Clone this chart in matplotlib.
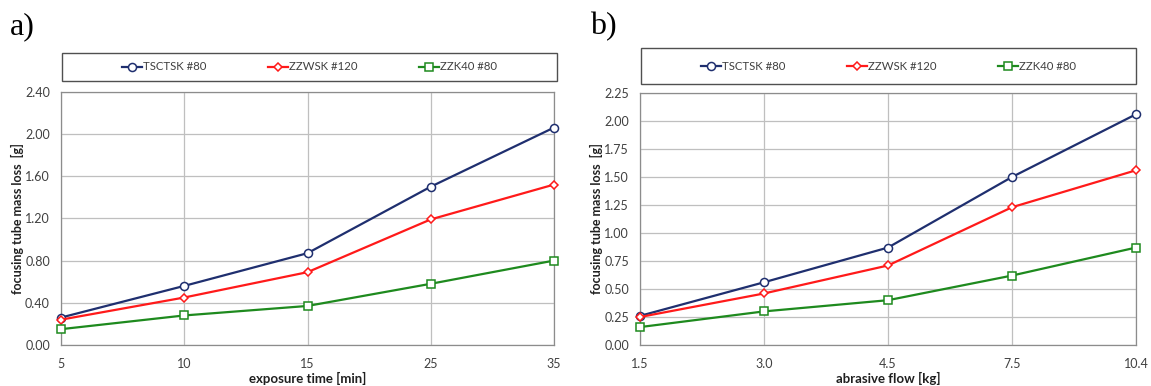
import matplotlib
matplotlib.use("Agg")
import matplotlib.pyplot as plt
from matplotlib.patches import Rectangle
from matplotlib.lines import Line2D

plt.rcParams['font.family'] = ['Lato', 'DejaVu Sans']

# Data
series_names = ["TSCTSK #80", "ZZWSK #120", "ZZK40 #80"]
time_labels = ["5", "10", "15", "25", "35"]
time_tsctsk = [0.26, 0.56, 0.87, 1.50, 2.06]
time_zzwsk = [0.24, 0.45, 0.69, 1.19, 1.52]
time_zzk40 = [0.15, 0.28, 0.37, 0.58, 0.80]

flow_labels = ["1.5", "3.0", "4.5", "7.5", "10.4"]
flow_tsctsk = [0.26, 0.56, 0.87, 1.50, 2.06]
flow_zzwsk = [0.25, 0.46, 0.71, 1.23, 1.56]
flow_zzk40 = [0.16, 0.30, 0.40, 0.62, 0.87]

colors = ['#1f2f6f', '#ff1a1a', '#1e8a1e']
markers = ['o', 'D', 's']
msizes = [5.8, 4.5, 6.3]

W, H = 1151, 386
fig = plt.figure(figsize=(W / 100, H / 100), dpi=100)

def fx(px):
    return px / W

def fy(py):
    return 1 - py / H

def panel(left, right, top, bottom, labels, data, yticks, ylim, xlabel,
          leg_box, tag, tag_x):
    ax = fig.add_axes([fx(left), fy(bottom), fx(right) - fx(left), fy(top) - fy(bottom)])
    x = list(range(len(labels)))
    for vals, c, m, ms in zip(data, colors, markers, msizes):
        ax.plot(x, vals, color=c, lw=1.6, marker=m, ms=ms, mfc='white',
                mec=c, mew=1.1, zorder=3, clip_on=False)
    ax.set_xlim(0, len(labels) - 1)
    ax.set_ylim(*ylim)
    ax.set_xticks(x)
    ax.set_xticklabels(labels)
    ax.set_yticks(yticks)
    ax.set_yticklabels([f"{v:.2f}" for v in yticks])
    ax.grid(True, color='#bfbfbf', lw=0.9)
    ax.set_axisbelow(True)
    for s in ax.spines.values():
        s.set_color('#8c8c8c')
        s.set_linewidth(0.9)
    ax.tick_params(axis='x', length=0, labelsize=9, colors='#404040', pad=9.5)
    ax.tick_params(axis='y', length=0, labelsize=9, colors='#404040', pad=8)
    ax.set_ylabel("focusing tube mass loss  [g]", fontsize=9, fontweight='bold',
                  color='#202020', labelpad=1)
    ax.set_xlabel(xlabel, fontsize=9.5, fontweight='bold', color='#202020', labelpad=1)

    lx0, ly0, lx1, ly1 = leg_box
    rect = Rectangle((fx(lx0), fy(ly1)), fx(lx1) - fx(lx0), fy(ly0) - fy(ly1),
                     transform=fig.transFigure, facecolor='white',
                     edgecolor='#505050', lw=1.0)
    fig.patches.append(rect)
    handles = [Line2D([], [], color=c, lw=1.6, marker=m, ms=ms, mfc='white', mec=c, mew=1.1)
               for c, m, ms in zip(colors, markers, msizes)]
    fig.legend(handles, series_names, loc='center',
               bbox_to_anchor=((fx(lx0) + fx(lx1)) / 2, (fy(ly0) + fy(ly1)) / 2),
               ncol=3, frameon=False, fontsize=8.2, handlelength=1.8,
               handletextpad=0.05, columnspacing=5.4, labelcolor='#404040')
    fig.text(fx(tag_x), fy(27), tag, fontsize=23, family='Liberation Serif',
             va='center', ha='left')
    return ax

panel(61, 554, 91.7, 345, time_labels, [time_tsctsk, time_zzwsk, time_zzk40],
      [0.0, 0.4, 0.8, 1.2, 1.6, 2.0, 2.4], (0, 2.4), "exposure time [min]",
      (62, 53, 557, 81), "a)", 10)
panel(640, 1136, 93, 345, flow_labels, [flow_tsctsk, flow_zzwsk, flow_zzk40],
      [0.0, 0.25, 0.5, 0.75, 1.0, 1.25, 1.5, 1.75, 2.0, 2.25], (0, 2.25),
      "abrasive flow [kg]", (641, 48, 1136, 84), "b)", 590)

fig.savefig("out.png", dpi=100)
